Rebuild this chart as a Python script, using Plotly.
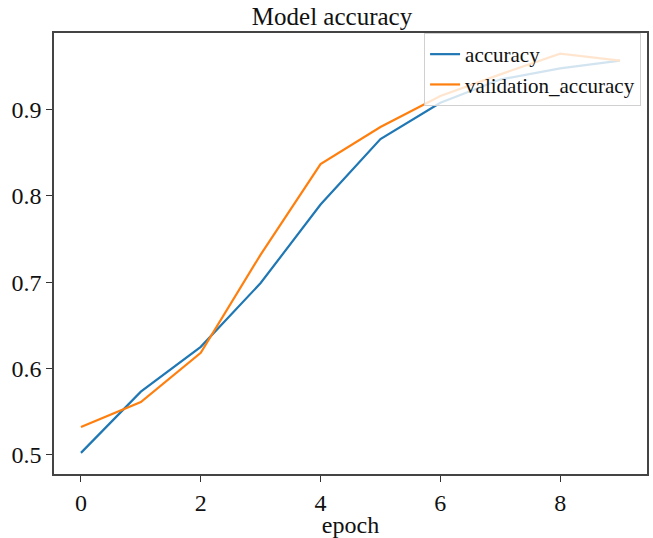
import plotly.graph_objects as go

epochs = [0, 1, 2, 3, 4, 5, 6, 7, 8, 9]
accuracy = [0.502, 0.573, 0.625, 0.699, 0.790, 0.866, 0.908, 0.935, 0.948, 0.957]
validation_accuracy = [0.532, 0.561, 0.618, 0.732, 0.837, 0.880, 0.916, 0.941, 0.965, 0.957]
x_ticks = [0, 2, 4, 6, 8]
y_ticks = [0.5, 0.6, 0.7, 0.8, 0.9]
y_tick_labels = ["0.5", "0.6", "0.7", "0.8", "0.9"]

FONT = "Liberation Serif, Times New Roman, serif"

fig = go.Figure()
fig.add_trace(go.Scatter(x=epochs, y=accuracy, mode="lines", name="accuracy",
                         line=dict(color="#1f77b4", width=2.2)))
fig.add_trace(go.Scatter(x=epochs, y=validation_accuracy, mode="lines", name="validation_accuracy",
                         line=dict(color="#ff7f0e", width=2.2)))

axis_common = dict(showline=True, linecolor="#444444", linewidth=1.5, mirror=True,
                   ticks="outside", ticklen=6, tickwidth=1.2, tickcolor="#333333",
                   showgrid=False, zeroline=False,
                   tickfont=dict(family=FONT, size=24, color="#111111"))

fig.update_layout(
    width=653, height=538,
    margin=dict(l=54, r=4, t=33, b=60),
    paper_bgcolor="white", plot_bgcolor="white",
    font=dict(family=FONT, color="#111111"),
    title=dict(text="Model accuracy", x=332 / 653, xanchor="center", y=1 - 16 / 538, yanchor="middle",
               font=dict(family=FONT, size=25, color="#111111")),
    xaxis=dict(range=[-0.45, 9.45], tickvals=x_ticks,
               title=dict(text="epoch", font=dict(family=FONT, size=24, color="#111111"), standoff=2),
               **axis_common),
    yaxis=dict(range=[0.4775, 0.989], tickvals=y_ticks, ticktext=y_tick_labels, **axis_common),
    legend=dict(x=0.99, y=1.0, xanchor="right", yanchor="top",
                bgcolor="rgba(255,255,255,0.8)", bordercolor="#d0d0d0", borderwidth=1,
                font=dict(family=FONT, size=21, color="#111111"),
                tracegroupgap=0, itemwidth=30),
    showlegend=True,
)

fig.write_html("out.html")
